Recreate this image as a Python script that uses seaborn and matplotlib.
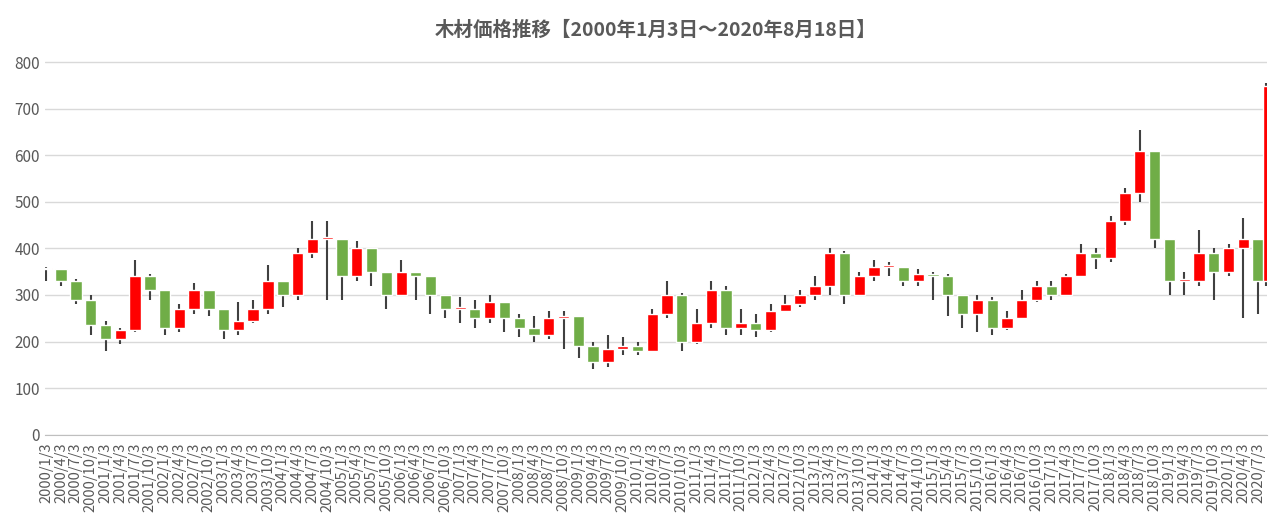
import pandas as pd
import numpy as np
import matplotlib.pyplot as plt
import seaborn as sns

# quarterly readings of the lumber price (3rd of each quarter's first month) + last day
quarters = [pd.Timestamp(year=y, month=m, day=3) for y in range(2000, 2021) for m in (1, 4, 7, 10)]
quarters = [d for d in quarters if d <= pd.Timestamp("2020-07-03")]
dates = quarters + [pd.Timestamp("2020-08-18")]
close = [355, 330, 290, 235, 205, 225, 340, 310, 230, 270, 310, 270,
         225, 245, 270, 330, 300, 390, 420, 420, 340, 400, 350, 300,
         350, 340, 300, 270, 270, 250, 285, 250, 230, 215, 250, 255,
         190, 155, 185, 190, 180, 260, 300, 200, 240, 310, 230, 240,
         225, 265, 280, 300, 320, 390, 300, 340, 360, 360, 330, 345,
         340, 300, 260, 290, 230, 250, 290, 320, 300, 340, 390, 380,
         460, 520, 610, 420, 330, 330, 390, 350, 400, 420, 330, 750]
high = [360, 355, 335, 300, 245, 230, 375, 345, 310, 280, 325, 310,
        270, 285, 290, 365, 330, 400, 460, 460, 420, 415, 400, 350,
        375, 350, 340, 300, 295, 290, 300, 285, 260, 255, 265, 265,
        255, 200, 215, 210, 200, 270, 330, 305, 270, 330, 320, 270,
        260, 280, 300, 310, 340, 400, 395, 350, 375, 370, 360, 355,
        350, 345, 300, 300, 295, 265, 310, 330, 330, 345, 410, 400,
        470, 530, 655, 610, 420, 350, 440, 400, 410, 465, 420, 755]
low = [330, 320, 280, 215, 180, 195, 220, 290, 215, 220, 260, 255,
       205, 215, 240, 260, 275, 290, 380, 290, 290, 330, 320, 270,
       300, 290, 260, 250, 240, 230, 240, 220, 210, 200, 205, 185,
       165, 140, 145, 170, 170, 180, 250, 180, 195, 230, 215, 215,
       210, 220, 265, 275, 290, 300, 280, 300, 330, 340, 320, 320,
       290, 255, 230, 220, 215, 225, 250, 285, 290, 300, 340, 355,
       370, 450, 500, 400, 300, 300, 320, 290, 340, 250, 260, 320]

sns.set_style("whitegrid")
plt.rcParams['font.family'] = ['Noto Sans CJK JP', 'DejaVu Sans']

t0 = dates[0]
x = np.array([(d - t0).days for d in dates], dtype=float)
opens = [close[0]] + close[:-1]

fig, ax = plt.subplots(figsize=(12.8, 5.3), dpi=100)
for i, (xi, o, c, h, l) in enumerate(zip(x, opens, close, high, low)):
    w = 70 if i < len(x) - 1 else 35
    ax.vlines(xi, l, h, color="#404040", lw=1.5, zorder=2)
    col = "#FF0000" if c >= o else "#70AD47"
    ax.bar(xi, max(abs(c - o), 4), bottom=min(o, c), width=w, color=col, zorder=3)

ax.set_ylim(0, 820)
ax.set_yticks(range(0, 801, 100))
ax.set_xlim(-10, x[-1] + 10)
ax.set_xticks([(d - t0).days for d in quarters])
ax.set_xticklabels([f"{d.year}/{d.month}/3" for d in quarters], rotation=90, fontsize=10.5, color="#595959")
ax.tick_params(axis="y", labelsize=11, labelcolor="#595959", length=0)
ax.tick_params(axis="x", length=4, color="#BFBFBF", pad=2)
ax.grid(axis="x", visible=False)
ax.grid(axis="y", color="#D9D9D9", lw=1)
for s in ["top", "right", "left"]:
    ax.spines[s].set_visible(False)
ax.spines["bottom"].set_color("#BFBFBF")
ax.set_title("木材価格推移【2000年1月3日～2020年8月18日】", fontsize=14, color="#595959", fontweight="bold", pad=12)

plt.subplots_adjust(left=0.035, right=0.99, top=0.9, bottom=0.18)
plt.savefig("out.png")
